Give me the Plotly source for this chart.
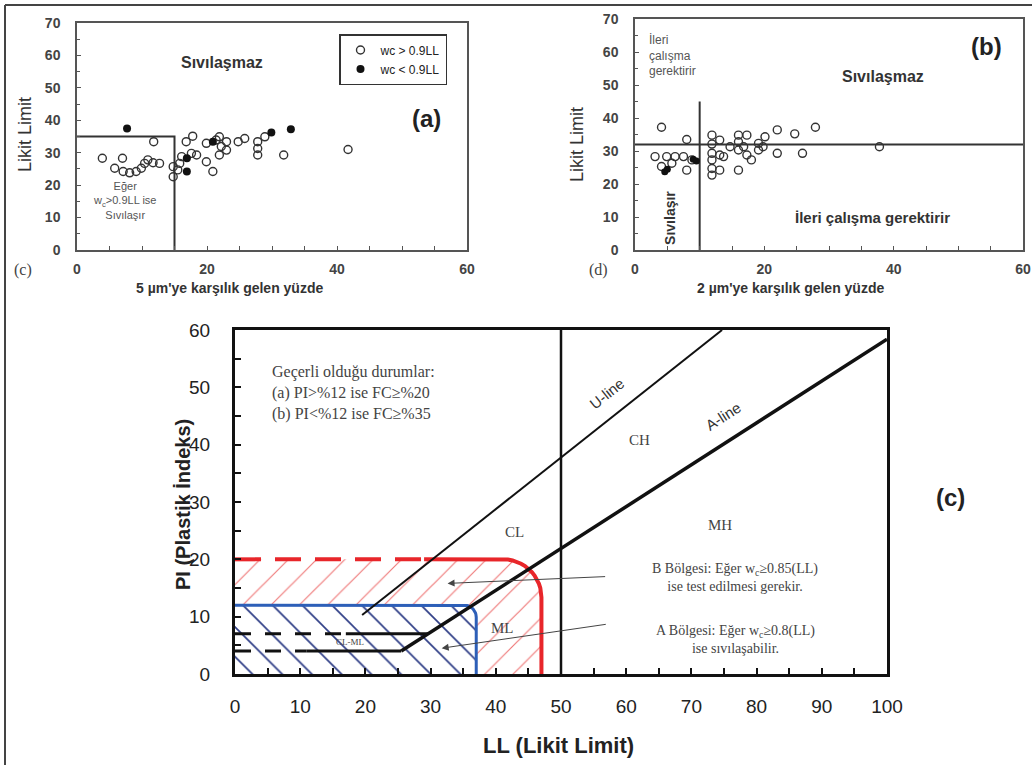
import plotly.graph_objects as go
import numpy as np

W, H = 1032, 765
def px(x): return x / W
def py(y): return 1 - y / H

# ---------------- Panel (a) data ----------------
A_OPEN_X = [3.9, 7.0, 5.8, 7.1, 8.1, 9.1, 9.9, 10.4, 10.9, 11.7, 12.7, 11.8, 14.8, 14.8, 15.5, 15.8,
            16.1, 16.8, 17.8, 17.6, 18.4, 19.9, 20.9, 19.9, 21.4, 21.9, 22.2, 21.9, 23.0, 23.0, 24.8,
            25.8, 27.8, 27.8, 27.8, 28.9, 31.8, 41.7]
A_OPEN_Y = [28.3, 28.3, 25.2, 24.2, 23.8, 24.2, 25.2, 26.7, 27.8, 26.9, 26.7, 33.4, 25.7, 22.6, 24.7, 26.7,
            28.8, 33.4, 35.1, 29.8, 29.3, 27.2, 24.2, 32.9, 33.9, 34.9, 31.9, 29.3, 30.8, 33.4, 33.4,
            34.4, 33.4, 31.3, 29.3, 34.9, 29.3, 31.0]
A_FILL_X = [7.7, 16.9, 16.9, 20.9, 29.9, 32.9]
A_FILL_Y = [37.5, 28.3, 24.2, 33.4, 36.2, 37.2]
A_BOX = [15, 35]  # fines %, LL

# ---------------- Panel (b) data ----------------
B_OPEN_X = [4.1, 3.1, 4.9, 6.2, 7.5, 4.1, 5.7, 8.0, 8.0, 8.8, 11.9, 11.9, 11.9, 11.9, 11.9, 11.9,
            13.1, 13.1, 13.7, 13.1, 14.7, 16.0, 16.0, 16.0, 16.0, 17.3, 16.8, 17.3, 18.0, 19.1, 19.1,
            20.1, 19.8, 22.0, 22.0, 24.7, 25.9, 27.9, 37.8]
B_OPEN_Y = [37.2, 28.3, 28.3, 28.3, 28.3, 25.3, 26.3, 24.2, 33.5, 27.3, 34.8, 32.1, 29.3, 27.3, 24.7, 22.7,
            24.2, 28.8, 28.3, 33.3, 31.3, 34.8, 32.8, 30.3, 24.2, 34.8, 31.3, 28.8, 27.3, 32.3, 30.3,
            34.3, 31.3, 36.4, 29.3, 35.2, 29.3, 37.2, 31.3]
B_FILL_X = [4.6, 5.0, 9.0, 9.5]
B_FILL_Y = [23.7, 24.5, 27.5, 27.0]
B_VLINE = [10, 45]   # fines %, top of line
B_HLINE = 32         # LL

# ---------------- Panel (c) data ----------------
A_LINE_LL = [25.5, 100]
A_LINE_PI = [4, 58.4]
U_LINE_LL = [19.5, 74.7]
U_LINE_PI = [10.3, 60]
LL50 = [50, 50]
LL50_PI = [0, 60]
CLML_PI = [7, 4]
CLML_DASH_END = [17, 11]
CLML_END = [29.6, 25.5]
RED_PI, RED_LL, RED_DASH_END = 20, 47, 29
BLUE_PI, BLUE_LL = 12, 37

fig = go.Figure()

# ===== panel (a) =====
fig.add_trace(go.Scatter(x=[0, A_BOX[0], A_BOX[0]], y=[A_BOX[1], A_BOX[1], 0], mode="lines",
                         line=dict(color="#333", width=2), showlegend=False, hoverinfo="skip",
                         xaxis="x", yaxis="y"))
fig.add_trace(go.Scatter(x=A_OPEN_X, y=A_OPEN_Y, mode="markers", name="wc &gt; 0.9LL",
                         marker=dict(symbol="circle-open", size=8, color="#333", line=dict(width=1.4)),
                         xaxis="x", yaxis="y"))
fig.add_trace(go.Scatter(x=A_FILL_X, y=A_FILL_Y, mode="markers", name="wc &lt; 0.9LL",
                         marker=dict(symbol="circle", size=8, color="#111"),
                         xaxis="x", yaxis="y"))

# ===== panel (b) =====
fig.add_trace(go.Scatter(x=[B_VLINE[0], B_VLINE[0]], y=[0, B_VLINE[1]], mode="lines",
                         line=dict(color="#333", width=2), showlegend=False, xaxis="x2", yaxis="y2"))
fig.add_trace(go.Scatter(x=[0, 60], y=[B_HLINE, B_HLINE], mode="lines",
                         line=dict(color="#333", width=2), showlegend=False, xaxis="x2", yaxis="y2"))
fig.add_trace(go.Scatter(x=B_OPEN_X, y=B_OPEN_Y, mode="markers", showlegend=False,
                         marker=dict(symbol="circle-open", size=8, color="#333", line=dict(width=1.4)),
                         xaxis="x2", yaxis="y2"))
fig.add_trace(go.Scatter(x=B_FILL_X, y=B_FILL_Y, mode="markers", showlegend=False,
                         marker=dict(symbol="circle", size=7, color="#111"),
                         xaxis="x2", yaxis="y2"))

# ===== panel (c) =====
XPU, YPU = 6.52, 5.73  # px per unit (for circular corners)

def rounded_path(ll, pi, r_px, start=0.0, n=14):
    rx, ry = r_px / XPU, r_px / YPU
    xs = [start, ll - rx]
    ys = [pi, pi]
    for t in np.linspace(np.pi / 2, 0, n)[1:]:
        xs.append(ll - rx + rx * np.cos(t))
        ys.append(pi - ry + ry * np.sin(t))
    xs.append(ll)
    ys.append(0)
    return xs, ys

rx_, ry_ = rounded_path(RED_LL, RED_PI, 38)
fig.add_trace(go.Scatter(x=[0] + rx_ + [0], y=[0] + ry_ + [0], mode="lines", fill="toself",
                         line=dict(width=0), fillcolor="rgba(0,0,0,0)",
                         fillpattern=dict(shape="/", fgcolor="#ef7a7a", bgcolor="rgba(0,0,0,0)",
                                          size=20, solidity=0.06),
                         showlegend=False, hoverinfo="skip", xaxis="x3", yaxis="y3"))
bx_, by_ = rounded_path(BLUE_LL, BLUE_PI, 12)
fig.add_trace(go.Scatter(x=[0] + bx_ + [0], y=[0] + by_ + [0], mode="lines", fill="toself",
                         line=dict(width=0), fillcolor="white",
                         fillpattern=dict(shape="\\", fgcolor="#2e3d86", bgcolor="white",
                                          size=21, solidity=0.08),
                         showlegend=False, hoverinfo="skip", xaxis="x3", yaxis="y3"))

# red boundary
fig.add_trace(go.Scatter(x=[0, RED_DASH_END], y=[RED_PI, RED_PI], mode="lines",
                         line=dict(color="#e8262a", width=4, dash="26px,14px"),
                         showlegend=False, xaxis="x3", yaxis="y3"))
rsx, rsy = rounded_path(RED_LL, RED_PI, 38, start=RED_DASH_END)
fig.add_trace(go.Scatter(x=rsx, y=rsy, mode="lines", line=dict(color="#e8262a", width=4),
                         showlegend=False, xaxis="x3", yaxis="y3"))
# blue boundary
fig.add_trace(go.Scatter(x=bx_, y=by_, mode="lines", line=dict(color="#2d5fb8", width=3),
                         showlegend=False, xaxis="x3", yaxis="y3"))

# CL-ML lines
for pi, de, en in zip(CLML_PI, CLML_DASH_END, CLML_END):
    fig.add_trace(go.Scatter(x=[0, de], y=[pi, pi], mode="lines",
                             line=dict(color="#111", width=3, dash="16px,14px"),
                             showlegend=False, xaxis="x3", yaxis="y3"))
    fig.add_trace(go.Scatter(x=[de, en], y=[pi, pi], mode="lines",
                             line=dict(color="#111", width=3),
                             showlegend=False, xaxis="x3", yaxis="y3"))

fig.add_trace(go.Scatter(x=A_LINE_LL, y=A_LINE_PI, mode="lines", line=dict(color="#111", width=3.5),
                         showlegend=False, xaxis="x3", yaxis="y3"))
fig.add_trace(go.Scatter(x=U_LINE_LL, y=U_LINE_PI, mode="lines", line=dict(color="#111", width=2),
                         showlegend=False, xaxis="x3", yaxis="y3"))
fig.add_trace(go.Scatter(x=LL50, y=LL50_PI, mode="lines", line=dict(color="#111", width=2.5),
                         showlegend=False, xaxis="x3", yaxis="y3"))

SANS = "Liberation Sans, Arial, sans-serif"
SERIF = "Liberation Serif, Times New Roman, serif"

small_axis = dict(showline=True, mirror=True, linecolor="#555", linewidth=1.5, showgrid=False,
                  zeroline=False, ticks="inside", ticklen=4, tickcolor="#555", automargin=False,
                  tickfont=dict(family=SANS, size=14, color="#444", weight="bold"))

fig.update_layout(
    template="none",
    width=W, height=H, autosize=False, margin=dict(l=0, r=0, t=0, b=0, pad=0),
    paper_bgcolor="white", plot_bgcolor="white",
    xaxis=dict(domain=[px(77), px(467)], range=[0, 60], tickvals=[0, 20, 40, 60], anchor="y",
               minor=dict(ticks="inside", dtick=5, ticklen=4, tickcolor="#555"),
               ticklabelstandoff=5, **small_axis),
    yaxis=dict(domain=[py(250), py(23)], range=[0, 70], dtick=10, anchor="x",
               minor=dict(ticks="inside", dtick=5, ticklen=3, tickcolor="#555"),
               ticklabelstandoff=12, **small_axis),
    xaxis2=dict(domain=[px(635), px(1023)], range=[0, 60], tickvals=[0, 20, 40, 60], anchor="y2",
                minor=dict(ticks="inside", dtick=5, ticklen=4, tickcolor="#555"),
                ticklabelstandoff=5, **small_axis),
    yaxis2=dict(domain=[py(250), py(19)], range=[0, 70], dtick=10, anchor="x2",
                minor=dict(ticks="inside", dtick=5, ticklen=3, tickcolor="#555"),
                ticklabelstandoff=12, **small_axis),
    xaxis3=dict(domain=[px(235), px(887)], range=[0, 100], dtick=10, anchor="y3", automargin=False,
                showline=True, mirror=True, linecolor="#111", linewidth=3, showgrid=False,
                zeroline=False, ticks="inside", ticklen=6, tickwidth=2, tickcolor="#111",
                minor=dict(ticks="inside", dtick=5, ticklen=6, tickwidth=2, tickcolor="#111"),
                ticklabelstandoff=13, tickfont=dict(family=SANS, size=19, color="#222")),
    yaxis3=dict(domain=[py(674), py(330)], range=[0, 60], dtick=10, anchor="x3", automargin=False,
                showline=True, mirror=True, linecolor="#111", linewidth=3, showgrid=False,
                zeroline=False, ticks="inside", ticklen=6, tickwidth=2, tickcolor="#111",
                minor=dict(ticks="inside", dtick=5, ticklen=6, tickwidth=2, tickcolor="#111"),
                ticklabelstandoff=18, tickfont=dict(family=SANS, size=19, color="#222")),
    legend=dict(x=px(339), y=py(34), xanchor="left", yanchor="top", bgcolor="white",
                bordercolor="#333", borderwidth=1.5, font=dict(family=SANS, size=12, color="#222"),
                tracegroupgap=0, itemwidth=30),
)

ann = []
def A(text, x, y, xref, yref, size, color="#333", family=SANS, bold=False, angle=0, **kw):
    d = dict(text=text, x=x, y=y, xref=xref, yref=yref, showarrow=False, textangle=angle,
             xanchor="center", yanchor="middle",
             font=dict(family=family, size=size, color=color, weight="bold" if bold else "normal"))
    d.update(kw)
    ann.append(d)

# panel (a)
A("Sıvılaşmaz", 22.3, 57.7, "x", "y", 16, bold=True)
A("(a)", 53.8, 40.6, "x", "y", 24, color="#222", bold=True)
A("Eğer<br>w<sub>c</sub>&gt;0.9LL ise<br>Sıvılaşır", 7.3, 15.4, "x", "y", 11, color="#555")
A("5 µm'ye karşılık gelen yüzde", px(229), py(288), "paper", "paper", 14, bold=True)
A("Likit Limit", px(25), py(135), "paper", "paper", 18, angle=-90)
A("(c)", px(23), py(270), "paper", "paper", 16, family=SERIF, color="#444")

# panel (b)
A("İleri<br>çalışma<br>gerektirir", 1.9, 59, "x2", "y2", 12, color="#555", xanchor="left", align="left")
A("Sıvılaşmaz", 38.3, 52.5, "x2", "y2", 16, bold=True)
A("(b)", 54.4, 61.6, "x2", "y2", 24, color="#222", bold=True)
A("İleri çalışma gerektirir", 36.8, 10, "x2", "y2", 15, bold=True)
A("Sıvılaşır", 5.4, 9.7, "x2", "y2", 14, bold=True, angle=-90)
A("2 µm'ye karşılık gelen yüzde", px(790), py(288), "paper", "paper", 14, bold=True)
A("Likit Limit", px(577), py(145), "paper", "paper", 18, angle=-90)
A("(d)", px(598), py(270), "paper", "paper", 16, family=SERIF, color="#444")

# panel (c)
A("Geçerli olduğu durumlar:<br>(a) PI&gt;%12 ise FC≥%20<br>(b) PI&lt;%12 ise FC≥%35", 5.4, 49,
  "x3", "y3", 16, family=SERIF, color="#444", xanchor="left", align="left")
A("U-line", 57, 49, "x3", "y3", 15, color="#333", angle=-38.5)
A("A-line", 74.8, 44.9, "x3", "y3", 15, color="#333", angle=-32.8)
A("CH", 62.1, 40.8, "x3", "y3", 15, family=SERIF, color="#444")
A("CL", 42.9, 24.8, "x3", "y3", 15, family=SERIF, color="#444")
A("MH", 74.4, 26, "x3", "y3", 15, family=SERIF, color="#444")
A("ML", 41, 8, "x3", "y3", 15, family=SERIF, color="#444")
A("CL-ML", 17.6, 5.6, "x3", "y3", 9, family=SERIF, color="#444")
A("B Bölgesi: Eğer w<sub>c</sub>≥0.85(LL)<br>ise test edilmesi gerekir.", 76.7, 16.8, "x3", "y3", 14,
  family=SERIF, color="#444")
A("A Bölgesi: Eğer w<sub>c</sub>≥0.8(LL)<br>ise sıvılaşabilir.", 76.7, 6.1, "x3", "y3", 14,
  family=SERIF, color="#444")
for v in [20, 12, 7, 4]:
    A(str(v), -0.2, v, "x3", "y3", 10, family=SERIF, color="#555", xanchor="right")
for v in [37, 47]:
    A(str(v), v, -2.4, "x3", "y3", 11, family=SERIF, color="#555")
A("(c)", px(950), py(497), "paper", "paper", 24, color="#222", bold=True)
A("PI (Plastik İndeks)", px(183), py(505), "paper", "paper", 20, color="#222", bold=True, angle=-90)
A("LL (Likit Limit)", px(558), py(745), "paper", "paper", 22, color="#222", bold=True)

# arrows
for (hx, hy, tx, ty) in [(32.6, 15.8, 57, 17), (31.7, 4.5, 57.1, 8.7)]:
    ann.append(dict(x=hx, y=hy, ax=tx, ay=ty, xref="x3", yref="y3", axref="x3", ayref="y3",
                    showarrow=True, arrowhead=2, arrowsize=1.4, arrowwidth=1, arrowcolor="#444", text=""))

fig.update_layout(annotations=ann)

# outer border (top and left)
fig.add_shape(type="line", xref="paper", yref="paper", x0=px(5), y0=py(5), x1=1, y1=py(5),
              line=dict(color="#444", width=2))
fig.add_shape(type="line", xref="paper", yref="paper", x0=px(5), y0=py(5), x1=px(5), y1=0,
              line=dict(color="#444", width=2))

fig.write_html("out.html", config={"displayModeBar": False},
               post_script="document.body.style.margin='0';document.body.style.padding='0';")
